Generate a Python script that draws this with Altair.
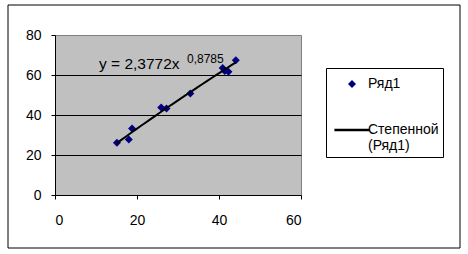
import altair as alt
import pandas as pd

# data
x_vals = [15.1, 18.0, 18.8, 25.9, 27.2, 33.0, 40.9, 41.4, 42.3, 44.1]
y_vals = [26.1, 27.8, 33.3, 43.7, 43.2, 50.8, 63.5, 62.0, 61.6, 67.4]
series_names = ["Ряд1", "Степенной (Ряд1)"]
x_ticks = [0, 20, 40, 60]
y_ticks = [0, 20, 40, 60, 80]
eq_main = ["y = 2,3772x"]
eq_exp = ["0,8785"]

FONT = "Liberation Sans"

df = pd.DataFrame({"x": x_vals, "y": y_vals, "series": series_names[0]})

xs = alt.Scale(domain=[0, 60], nice=False, zero=False)
ys = alt.Scale(domain=[0, 80], nice=False, zero=False)

x_axis = alt.Axis(values=x_ticks, title=None, grid=False, labelPadding=14, labelOverlap=False)
y_axis = alt.Axis(
    values=y_ticks,
    title=None,
    grid=True,
    gridColor="black",
    gridOpacity={"condition": {"test": "datum.value == 80 || datum.value == 0", "value": 0}, "value": 1},
    labelPadding=10,
    labelOverlap=False,
)

X = alt.X("x:Q", scale=xs, axis=x_axis)
Y = alt.Y("y:Q", scale=ys, axis=y_axis)

legend = alt.Legend(
    title=" ",
    titleFontSize=1,
    titlePadding=4,
    orient="none",
    legendX=271,
    legendY=33,
    strokeColor="black",
    fillColor="white",
    padding=4,
    labelFont=FONT,
    labelFontSize=14,
    labelColor="black",
    labelOffset=9,
    symbolOffset=15,
    symbolSize=64,
    symbolStrokeWidth=0,
    rowPadding=32,
    labelLimit=0,
    labelExpr="datum.label == 'Степенной (Ряд1)' ? ['Степенной', '(Ряд1)'] : datum.label",
)

points = alt.Chart(df).mark_point(filled=True, opacity=1, size=64).encode(
    x=X,
    y=Y,
    color=alt.Color(
        "series:N",
        scale=alt.Scale(domain=series_names, range=["#000080", "#000000"]),
        legend=legend,
    ),
    shape=alt.Shape(
        "series:N",
        scale=alt.Scale(domain=series_names, range=["diamond", "M-4.4,-0.32H4.4V0.32H-4.4Z"]),
        legend=legend,
    ),
)

trend = alt.Chart(df).transform_regression("x", "y", method="pow").mark_line(
    color="black", strokeWidth=2
).encode(x=X, y=Y)

eq1 = alt.Chart(pd.DataFrame({"t": eq_main})).mark_text(
    font=FONT, fontSize=15.5, color="black", align="left", baseline="alphabetic"
).encode(text="t:N", x=alt.value(44), y=alt.value(34))

eq2 = alt.Chart(pd.DataFrame({"t": eq_exp})).mark_text(
    font=FONT, fontSize=12, color="black", align="left", baseline="alphabetic"
).encode(text="t:N", x=alt.value(132), y=alt.value(28))

frame = alt.Chart(pd.DataFrame({"a": [0]})).mark_rect(
    fillOpacity=0, stroke="black", strokeWidth=1
).encode(x=alt.value(-47), x2=alt.value(405), y=alt.value(-30), y2=alt.value(213))

chart = (
    alt.layer(frame, points, trend, eq1, eq2)
    .properties(width=246, height=160, padding={"left": 7, "top": 4, "right": 0, "bottom": 0})
    .configure(background="white")
    .configure_view(fill="#C0C0C0", stroke="#808080", strokeWidth=1)
    .configure_axis(
        domainColor="black",
        tickColor="black",
        tickSize=4,
        domainWidth=1,
        tickWidth=1,
        labelFont=FONT,
        labelFontSize=14,
        labelColor="black",
    )
)

chart.save("out.html", embed_options={"renderer": "svg", "actions": False})
